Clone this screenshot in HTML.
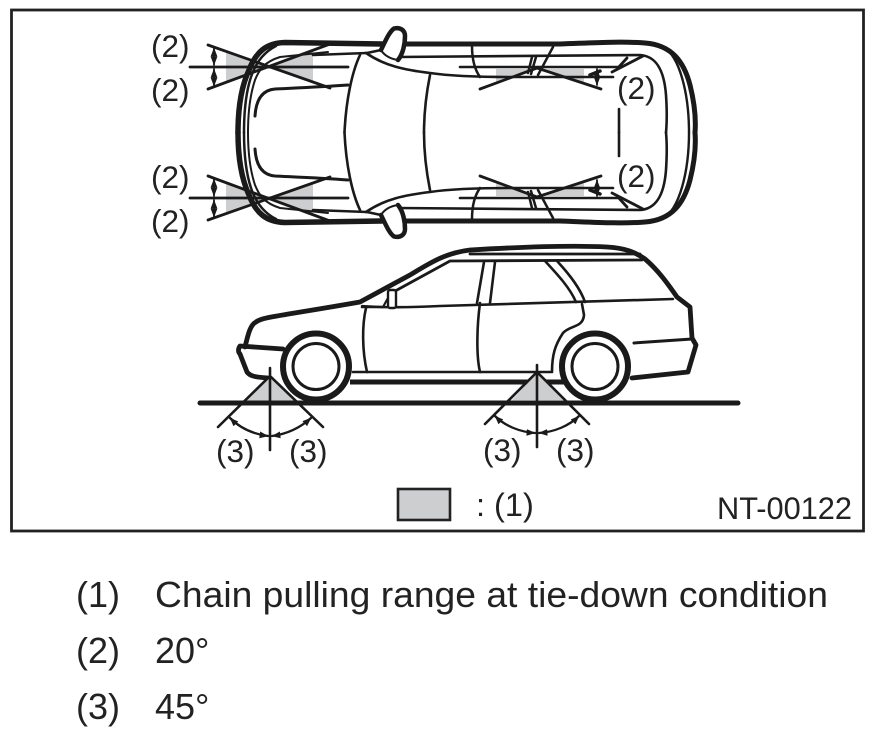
<!DOCTYPE html>
<html><head><meta charset="utf-8"><style>
html,body{margin:0;padding:0;background:#fff;width:870px;height:735px;overflow:hidden}
svg{display:block}
text{font-family:"Liberation Sans",sans-serif;fill:#222}
</style></head><body>
<svg width="870" height="735" viewBox="0 0 870 735" xmlns="http://www.w3.org/2000/svg">
<defs>
<marker id="a" viewBox="0 0 8 6" refX="7.5" refY="3" markerWidth="9" markerHeight="7" markerUnits="userSpaceOnUse" orient="auto-start-reverse"><path d="M0 0L8 3L0 6z" fill="#1a1a1a"/></marker>
</defs>
<rect x="11.500" y="10" width="852" height="521" fill="#fff" stroke="#222" stroke-width="2.800"/>

<!-- top view, upper half -->
<g id="h" fill="none" stroke="#1a1a1a" stroke-linecap="round" stroke-linejoin="round">
  <polygon points="226,52 265,67 226,83" fill="#cdced0" stroke="none"/>
  <polygon points="313,50 265,67 313,82" fill="#cdced0" stroke="none"/>
  <polygon points="496,69 537,69 496,82" fill="#cdced0" stroke="none"/>
  <polygon points="584,69 545,69 584,82" fill="#cdced0" stroke="none"/>
  <path d="M238 132.500C238 105 242 85 249 70C256 52 266 43 285 42.500L382 44" stroke-width="5.500"/>
  <path d="M405 44L560 44C590 43 620 41 645 43C672 45 684 62 690 85C695 105 696 120 695 132.500" stroke-width="5"/>
  <path d="M244 132.500C244 110 246 92 251 77C256 62 264 52 276 46" stroke-width="2.500"/>
  <path d="M248 132.500C248 112 250 95 255 80C259 70 264 62 280 57L328 52" stroke-width="2"/>
  <path d="M662 46C680 55 689 95 689 132.500" stroke-width="2.400"/>
  <path d="M255 116C256 100 262 90 275 89C295 88 320 87 348 85" stroke-width="3"/>
  <path d="M360 55C352 72 346 100 344.500 132.500" stroke-width="2.600"/>
  <path d="M430 75C426 95 424 115 424 132.500" stroke-width="2.600"/>
  <path d="M313 55L367 53" stroke-width="2.600"/>
  <path d="M366 53C385 66 405 70 430 73C450 76 480 77 510 77L613 77" stroke-width="2.600"/>
  <path d="M398 57L640 55C655 56 664 68 666 95C667 110 667 122 666 132.500" stroke-width="2.600"/>
  <path d="M619 109V132.500" stroke-width="2.600"/>
  <path d="M612 72L643 56M617 69L627 58" stroke-width="2.800"/>
  <path d="M472 46C472 60 475 70 480 77M532 57L528 73M553 47L538 75M536 57L531 74" stroke-width="2.500"/>
  <!-- mirror -->
  <path d="M381 50C385 42 389 32 394 28.500C400 27 405 30 405 36C405 44 403 54 398 60C391 58 385 55 381 50Z" fill="#fff" stroke="none"/>
  <path d="M381 50C385 42 389 32 394 28.500C400 27 405 30 405 36C405 44 403 54 398 60" stroke-width="4.500"/>
  <path d="M381 50C384 55 390 59 398 60" stroke-width="2"/>
  <path d="M367 53L381 50" stroke-width="2.500"/>
  <!-- bow-ties -->
  <path d="M208 45L330 88M208 89L330 44" stroke-width="2.800"/>
  <path d="M190 67H348" stroke-width="2.800"/>
  <path d="M460 67H620" stroke-width="2.600"/>
  <path d="M480 89L537 68L601 89" stroke-width="2.800"/>
  <path d="M214 48V65" stroke-width="1.800" marker-start="url(#a)" marker-end="url(#a)"/>
  <path d="M214 69V86" stroke-width="1.800" marker-start="url(#a)" marker-end="url(#a)"/>
  <path d="M597 69V85" stroke-width="1.800" marker-start="url(#a)" marker-end="url(#a)"/>
  <path d="M590 75L600 71" stroke-width="3.500"/>
</g>
<use href="#h" transform="matrix(1 0 0 -1 0 265)"/>

<!-- side view -->
<g fill="none" stroke="#1a1a1a" stroke-linecap="round" stroke-linejoin="round">
  <path d="M245 347C248 335 250 325 256 322C262 317 280 316 360 302L410 275C430 263 445 253 470 250C520 247 570 245 607 247C625 248 635 252 645 259C658 270 668 284 677 297L690 307L692 338L696 345L688 372L632 378" stroke-width="4.800"/>
  <path d="M283 349L240 346C238 349 238 352 240 354L247 372C250 376 254 377 268 378" stroke-width="4.800"/>
  <path d="M245 347L285 350" stroke-width="2.600"/>
  <path d="M397 290L450 261L642 260" stroke-width="2.800"/>
  <path d="M470 254H640" stroke-width="2.800"/>
  <path d="M362 307L375 307C395 307 400 308 440 306L673 299" stroke-width="2.600"/>
  <path d="M366 308C362 325 362 350 367 372" stroke-width="2.600"/>
  <path d="M353 372H552C552 355 555 345 563 333C570 325 583 328 584 315L582 304" stroke-width="2.600"/>
  <path d="M350 382H565" stroke-width="5" stroke-linecap="butt"/>
  <path d="M484 262L477 303M495 262L490 303M480 303C477 325 476 355 480 372" stroke-width="2.600"/>
  <path d="M545 261C558 275 570 288 576 302M557 261C570 275 580 288 585 302" stroke-width="2.600"/>
  <path d="M634 343L692 339" stroke-width="3"/>
  <path d="M362 306L383 307L388 298" stroke-width="2.200"/>
  <rect x="388" y="290" width="8" height="18" rx="2" fill="#fff" stroke-width="2.400"/>
  <circle cx="316" cy="366.500" r="33" fill="#fff" stroke-width="6"/>
  <circle cx="316" cy="366.500" r="23" stroke-width="3"/>
  <circle cx="595" cy="366.500" r="33" fill="#fff" stroke-width="6"/>
  <circle cx="595" cy="366.500" r="23" stroke-width="3"/>
  <polygon points="270,377 245,401 295,401" fill="#cdced0" stroke="none"/>
  <polygon points="537,373 512,400 563,400" fill="#cdced0" stroke="none"/>
  <path d="M200 403H738" stroke-width="5"/>
  <path d="M218 427L270 376L323 427M270 368V450" stroke-width="2.600"/>
  <path d="M485 424L537 372L589 424M537 365V447" stroke-width="2.600"/>
  <path d="M230 418C240 428 253 434 268 436" stroke-width="2.300" marker-start="url(#a)" marker-end="url(#a)"/>
  <path d="M272 436C287 434 300 428 311 418" stroke-width="2.300" marker-start="url(#a)" marker-end="url(#a)"/>
  <path d="M495 416C505 426 520 432 535 433" stroke-width="2.300" marker-start="url(#a)" marker-end="url(#a)"/>
  <path d="M539 433C554 432 569 426 579 416" stroke-width="2.300" marker-start="url(#a)" marker-end="url(#a)"/>
</g>

<g font-size="31.500">
  <text x="151" y="57">(2)</text>
  <text x="151" y="101">(2)</text>
  <text x="151" y="188">(2)</text>
  <text x="151" y="232">(2)</text>
  <text x="617" y="99">(2)</text>
  <text x="617" y="187">(2)</text>
  <text x="216" y="462">(3)</text>
  <text x="289" y="462">(3)</text>
  <text x="483" y="461">(3)</text>
  <text x="556" y="461">(3)</text>
  <text x="476" y="516" font-size="32.500">: (1)</text>
  <text x="717" y="519" textLength="135" lengthAdjust="spacingAndGlyphs">NT-00122</text>
</g>
<rect x="398" y="489" width="52" height="31" fill="#cdced0" stroke="#222" stroke-width="2.600"/>

<g font-size="36">
  <text x="76" y="607">(1)</text>
  <text x="155" y="607" textLength="673" lengthAdjust="spacingAndGlyphs">Chain pulling range at tie-down condition</text>
  <text x="76" y="663">(2)</text>
  <text x="155" y="663">20°</text>
  <text x="76" y="719">(3)</text>
  <text x="155" y="719">45°</text>
</g>
</svg>
</body></html>
